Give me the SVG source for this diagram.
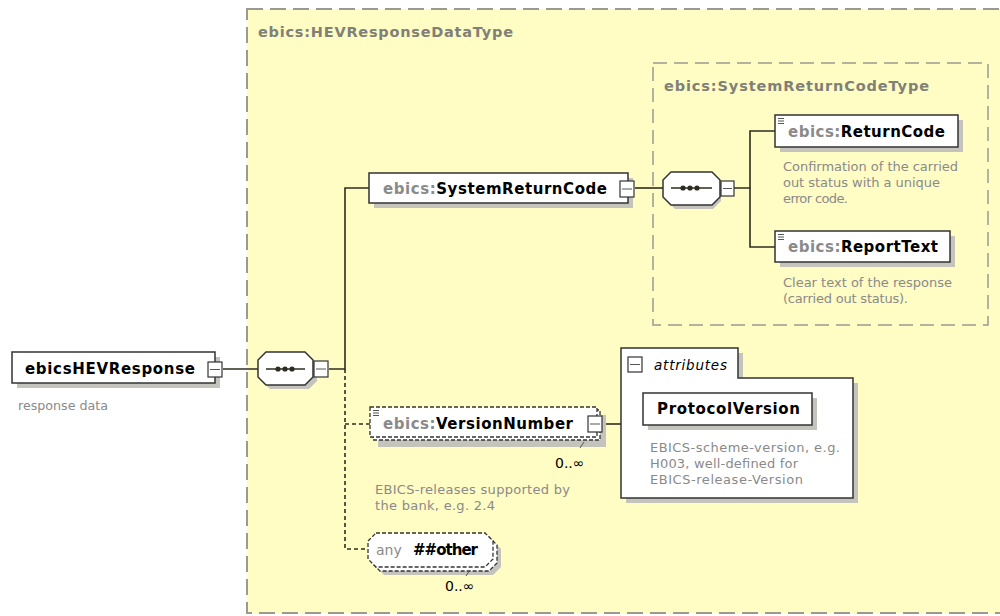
<svg xmlns="http://www.w3.org/2000/svg" width="1000" height="616" viewBox="0 0 1000 616">
<style>
.outer{fill:#fffcc4;stroke:#9a9a90;stroke-width:2;stroke-dasharray:16 7}
.inner{fill:none;stroke:#9a9a90;stroke-width:1.5;stroke-dasharray:14 7}
.box{fill:#fff;stroke:#333;stroke-width:1.5}
.dbox{fill:#fff;stroke:#333;stroke-width:1.3;stroke-dasharray:4 2}
.shadow{fill:#c4c4bc}
.btn{fill:#fff;stroke:#333;stroke-width:1.2}
.wire{fill:none;stroke:#2e2c20;stroke-width:1.6}
.dwire{fill:none;stroke:#2e2c20;stroke-width:1.6;stroke-dasharray:4 3}
.name{font-family:"DejaVu Sans",Verdana,sans-serif;font-weight:bold;font-size:15px;fill:#000}
.pfx{fill:#8a8a8a}
.title{font-family:"DejaVu Sans",Verdana,sans-serif;font-weight:bold;font-size:14.5px;fill:#808078}
.desc{font-family:"DejaVu Sans",Verdana,sans-serif;font-size:13px;fill:#8a8a8a}
.occ{font-family:"DejaVu Sans",Verdana,sans-serif;font-size:14px;fill:#000}
.ital{font-family:"DejaVu Sans",Verdana,sans-serif;font-style:italic;font-size:13.5px;fill:#000}
.mark{stroke:#555;stroke-width:1}
</style>
<rect x="0" y="0" width="1000" height="616" fill="#fff"/>

<g id="type-HEVResponseDataType">
<rect class="outer" x="247" y="9" width="770" height="604"/>
<text class="title" x="258" y="37" textLength="255">ebics:HEVResponseDataType</text>
</g>

<g id="type-SystemReturnCodeType">
<rect class="inner" x="653" y="63" width="335" height="262"/>
<text class="title" x="664" y="91" textLength="265">ebics:SystemReturnCodeType</text>
</g>

<g id="connectors">
<path class="wire" d="M223,369 H258"/>
<path class="wire" d="M329,369 H345 V188 H369"/>
<path class="dwire" d="M345,369 V549 H368"/>
<path class="dwire" d="M345,424 H370"/>
<path class="wire" d="M635,188 H663"/>
<path class="wire" d="M734,188 H750 V131 H775"/>
<path class="wire" d="M750,188 V247 H775"/>
<path class="wire" d="M603,424 H621"/>
</g>

<g id="ebicsHEVResponse">
<rect class="shadow" x="17" y="357" width="203" height="31"/>
<rect class="box" x="12" y="352" width="203" height="31"/>
<text class="name" x="25" y="374" textLength="170">ebicsHEVResponse</text>
<rect class="btn" x="208" y="362" width="14" height="15"/>
<path class="mark" d="M210,369.5 H220"/>
<text class="desc" x="18" y="410" textLength="90" lengthAdjust="spacingAndGlyphs">response data</text>
</g>

<g id="sequence1">
<polygon class="shadow" points="270,356 309,356 317,364 317,381 309,389 270,389 262,381 262,364"/>
<polygon class="box" points="266,352 305,352 313,360 313,377 305,385 266,385 258,377 258,360"/>
<path class="wire" d="M266,369 H305"/>
<circle cx="278" cy="369" r="2.6" fill="#2e2c20"/>
<circle cx="285" cy="369" r="2.6" fill="#2e2c20"/>
<circle cx="292" cy="369" r="2.6" fill="#2e2c20"/>
<rect class="btn" x="314" y="361" width="14" height="16"/>
<path class="mark" d="M316,369 H326"/>
</g>

<g id="SystemReturnCode">
<rect class="shadow" x="374" y="178" width="259" height="30"/>
<rect class="box" x="369" y="173" width="259" height="30"/>
<text class="name" x="383" y="194" textLength="224"><tspan class="pfx">ebics:</tspan>SystemReturnCode</text>
<rect class="btn" x="620" y="181" width="14" height="16"/>
<path class="mark" d="M622,189 H632"/>
</g>

<g id="sequence2">
<polygon class="shadow" points="675,176 713,176 721,184 721,201 713,209 675,209 667,201 667,184"/>
<polygon class="box" points="671,172 712,172 720,180 720,197 712,205 671,205 663,197 663,180"/>
<path class="wire" d="M671,188 H712"/>
<circle cx="683" cy="188" r="2.6" fill="#2e2c20"/>
<circle cx="690" cy="188" r="2.6" fill="#2e2c20"/>
<circle cx="697" cy="188" r="2.6" fill="#2e2c20"/>
<rect class="btn" x="721" y="181" width="13" height="15"/>
<path class="mark" d="M723,188.5 H732"/>
</g>

<g id="ReturnCode">
<rect class="shadow" x="780" y="120" width="183" height="32"/>
<rect class="box" x="775" y="115" width="183" height="32"/>
<path class="mark" d="M778,118.5 H784 M778,121 H784 M778,123.5 H784"/>
<text class="name" x="788" y="137" textLength="157"><tspan class="pfx">ebics:</tspan>ReturnCode</text>
<text class="desc" x="783" y="171" textLength="175">Confirmation of the carried</text>
<text class="desc" x="783" y="187" textLength="157">out status with a unique</text>
<text class="desc" x="783" y="203" textLength="65">error code.</text>
</g>

<g id="ReportText">
<rect class="shadow" x="780" y="236" width="175" height="31"/>
<rect class="box" x="775" y="231" width="175" height="31"/>
<path class="mark" d="M778,234.5 H784 M778,237 H784 M778,239.5 H784"/>
<text class="name" x="788" y="252" textLength="150"><tspan class="pfx">ebics:</tspan>ReportText</text>
<text class="desc" x="783" y="287" textLength="169">Clear text of the response</text>
<text class="desc" x="783" y="303" textLength="125">(carried out status).</text>
</g>

<g id="VersionNumber">
<rect class="shadow" x="378" y="415" width="228" height="32"/>
<rect class="dbox" x="373" y="410" width="227" height="30"/>
<rect class="dbox" x="370" y="407" width="227" height="30"/>
<path class="mark" d="M373,410.5 H379 M373,413 H379 M373,415.5 H379"/>
<text class="name" x="383" y="429" textLength="190"><tspan class="pfx">ebics:</tspan>VersionNumber</text>
<rect class="btn" x="588" y="416" width="14" height="16"/>
<path class="mark" d="M590,424 H600"/>
<path class="mark" d="M580,448 L584,442"/>
<text class="occ" x="555" y="468">0..∞</text>
<text class="desc" x="375" y="494" textLength="195">EBICS-releases supported by</text>
<text class="desc" x="375" y="510" textLength="120">the bank, e.g. 2.4</text>
</g>

<g id="attributes">
<polygon class="shadow" points="626,353 743,353 743,383 858,383 858,503 626,503"/>
<polygon class="box" points="621,348 738,348 738,378 853,378 853,498 621,498"/>
<rect class="btn" x="628" y="357" width="14" height="15"/>
<path class="mark" d="M630,364.5 H640"/>
<text class="ital" x="654" y="370" textLength="73">attributes</text>
</g>

<g id="ProtocolVersion">
<rect class="shadow" x="648" y="398" width="169" height="32"/>
<rect class="box" x="643" y="393" width="169" height="32"/>
<text class="name" x="657" y="414" textLength="143">ProtocolVersion</text>
<text class="desc" x="650" y="452" textLength="190">EBICS-scheme-version, e.g.</text>
<text class="desc" x="650" y="468" textLength="148">H003, well-defined for</text>
<text class="desc" x="650" y="484" textLength="153">EBICS-release-Version</text>
</g>

<g id="any-other">
<polygon class="shadow" points="384,541 493,541 501,549 501,567 493,575 384,575 376,567 376,549"/>
<polygon class="dbox" points="380,537 489,537 497,545 497,563 489,571 380,571 372,563 372,545"/>
<polygon class="dbox" points="376,533 485,533 493,541 493,559 485,567 376,567 368,559 368,541"/>
<text class="name" x="376" y="555"><tspan class="pfx" style="font-weight:normal" font-size="14">any</tspan><tspan x="413" textLength="65">##other</tspan></text>
<path class="mark" d="M466,576 L470,570"/>
<text class="occ" x="445" y="591">0..∞</text>
</g>
</svg>
